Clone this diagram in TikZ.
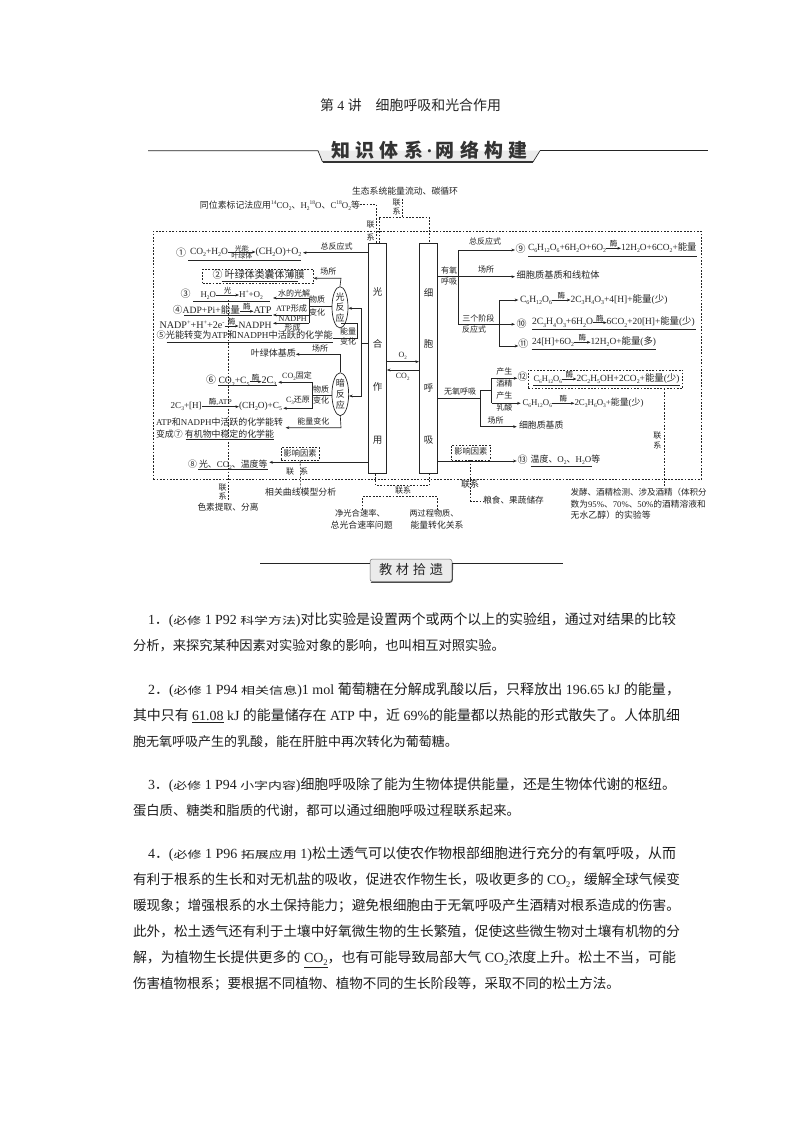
\documentclass[tikz,border=0pt]{standalone}
\usepackage{graphicx}
\usepackage{fontspec}
\usetikzlibrary{arrows.meta,shapes.geometric,calc}
\setmainfont{Liberation Serif}
\newfontfamily\cjk{Noto Sans CJK SC}
\newcommand\latinf{\rmfamily}
\XeTeXinterchartokenstate=1
\newcount\cc
\newcommand\setrange[2]{\cc=#1\relax\loop\XeTeXcharclass\cc=5\relax\ifnum\cc<#2\relax\advance\cc by 1\relax\repeat}
\setrange{"4E00}{"9FFF}
\setrange{"3000}{"303F}
\setrange{"FF00}{"FFEF}
\setrange{"2460}{"24FF}
\XeTeXinterchartoks 0 5={\cjk}
\XeTeXinterchartoks 5 0={\latinf}
\XeTeXinterchartoks 4095 5={\cjk}
\XeTeXinterchartoks 5 4095={\latinf}
\newcommand\dn[1]{\raisebox{-0.22em}{\scalebox{0.62}{#1}}}
\newcommand\uu[1]{\raisebox{0.42em}{\scalebox{0.62}{#1}}}
\newcommand\W[2]{\resizebox{#1pt}{!}{#2}}
\definecolor{ink}{gray}{0.14}
\tikzset{
 tx/.style={inner sep=0pt,outer sep=0pt,text=ink,font=\fontsize{8.8}{10}\selectfont,text height=6.5pt,text depth=2pt},
 txl/.style={tx,anchor=west},
 txr/.style={tx,anchor=east},
 sm/.style={tx,font=\fontsize{8}{9}\selectfont},
 bd/.style={inner sep=0pt,outer sep=0pt,anchor=west,text=black!88,font=\fontsize{13.3}{15}\selectfont,text height=10.5pt,text depth=3pt},
 ln/.style={draw=ink,line width=0.65pt},
 ar/.style={ln,-{Stealth[length=3.6pt,width=2.8pt]}},
 ds/.style={draw=ink,line width=0.6pt,dash pattern=on 1.8pt off 1.5pt},
 ul/.style={draw=ink,line width=0.6pt},
 cellbox/.style={draw=ink,line width=0.7pt,fill=white,inner sep=0pt,minimum width=18pt,minimum height=230pt,anchor=north},
 vch/.style={tx,font=\fontsize{9.5}{11}\selectfont},
 ell/.style={ellipse,draw=ink,line width=0.7pt,fill=white,inner sep=0pt},
 eltx/.style={inner sep=0pt,align=center,text=ink,font=\fontsize{9}{10.6}\selectfont},
 rxl/.style={midway,above=0.7pt,inner sep=0pt,text=ink,font=\fontsize{7.5}{7.5}\selectfont},
}
\begin{document}
\begin{tikzpicture}[x=1pt,y=-1pt]
\useasboundingbox (0,0) rectangle (794,1123);
\fill[white] (0,0) rectangle (794,1123);
% ---- title
\node[inner sep=0pt,text=black!85,font=\fontsize{13}{15}\selectfont] (title) at (410.5,105) {\W{181}{第 4 讲\quad 细胞呼吸和光合作用}};
% banner 1
\coordinate (r1a) at (148,150.7); \coordinate (b1l) at (318,150.7); \coordinate (b1lb) at (322.5,162); \coordinate (b1rb) at (533,162); \coordinate (b1r) at (540,150.7); \coordinate (r1b) at (708,150.7);
\fill[black!8] (b1l) -- (b1lb) -- (b1rb) -- (b1r) -- cycle;
\draw[ln] (r1a) -- (b1l) -- (b1lb);
\draw[ln] (b1r) -- (r1b);
\draw[ln] (b1r) -- (b1rb);
\draw[draw=black!80,line width=1.3pt] (b1lb) -- (b1rb);
\node[inner sep=0pt,text=black!80,font=\fontsize{18}{20}\bfseries\selectfont] (bn1) at (429.5,150.5) {\W{196}{知\hspace{5pt}识\hspace{5pt}体\hspace{5pt}系\hspace{3pt}·\hspace{3pt}网\hspace{5pt}络\hspace{5pt}构\hspace{5pt}建}};
% ---- big dashed frame
\node[ds,inner sep=0pt,anchor=north west,minimum width=548pt,minimum height=248pt] (frame) at (153,231) {};
% ---- central boxes
\node[cellbox] (G) at (377.5,243) {};
\node[cellbox] (R) at (428.3,243) {};
\foreach \n/\c/\y in {g1/光/293,g2/合/345,g3/作/388.3,g4/用/441}{\node[vch] (\n) at (377.5,\y) {\c};}
\foreach \n/\c/\y in {c1/细/294,c2/胞/345.7,c3/呼/389,c4/吸/441}{\node[vch] (\n) at (428.6,\y) {\c};}
% O2 / CO2
\node[sm] (lo2) at (402.7,355) {O\dn{2}};
\node[sm] (lco2) at (402.7,376.7) {CO\dn{2}};
\coordinate (oy) at (400,361.7); \coordinate (coy) at (400,370);
\draw[ar] (G.east |- oy) -- (R.west |- oy);
\draw[ar] (R.west |- coy) -- (G.east |- coy);
% ---- top labels
\node[sm] (eco) at (405,192.7) {\W{106}{生态系统能量流动、碳循环}};
\node[sm] (iso) at (280,206) {\W{160}{同位素标记法应用\uu{14}CO\dn{2}、H\dn{2}\uu{18}O、C\uu{18}O\dn{2}等}};
\coordinate (isoe) at (376.5,204.5);
\draw[ds] (iso.east |- isoe) -- (isoe) -- (isoe |- G.north);
\node[sm] (ll1) at (370.7,225) {联}; \node[sm] (ll2) at (370.7,238) {系};
\node[sm] (lt1) at (396.7,203) {联}; \node[sm] (lt2) at (396.7,212.7) {系};
\coordinate (top1) at (379,217); \coordinate (top2) at (402.7,217); \coordinate (top3) at (429,217); \coordinate (top0) at (402.7,199);
\draw[ds] (top0) -- (top2);
\draw[ds] (top1 |- G.north) -- (top1) -- (top3) -- (top3 |- R.north);
% ---- ellipses
\node[ell,minimum width=16pt,minimum height=41.3pt] (Lr) at (340,307.3) {};
\node[eltx] (Lrt) at (340,307.3) {光\\反\\应};
\node[ell,minimum width=16.7pt,minimum height=43pt] (Dr) at (340.3,394.2) {};
\node[eltx] (Drt) at (340.3,394.2) {暗\\反\\应};
% ---- vertical pigment dashed (behind text)
\coordinate (pgT) at (228.3,300); \coordinate (pgB) at (228.3,501);
\draw[ds] (pgT) -- (pgB);
% ---- (1)
\node[tx] (n1) at (181,254) {\fontsize{10}{10}\selectfont ①};
\node[txr] (f1a) at (228,252) {\W{38}{CO\dn{2}+H\dn{2}O}};
\node[txl] (f1b) at (255.5,252) {\W{46}{(CH\dn{2}O)+O\dn{2}}};
\draw[ar] (f1a.east) -- (f1b.west) node[midway,above=0.1pt,inner sep=0pt,text=ink,font=\fontsize{7}{7}\selectfont]{光能} node[midway,below=0.4pt,inner sep=0pt,text=ink,font=\fontsize{7}{7}\selectfont]{叶绿体};
\coordinate (u1a) at (188,260.7); \coordinate (u1b) at (301,260.7); \draw[ul] (u1a) -- (u1b);
\coordinate (e1) at (303,252.7);
\draw[ar] (G.west |- e1) -- (e1) ;
\node[sm] (l1) at (336.7,247.5) {总反应式};
% ---- (2)
\node[ds,inner sep=0pt,minimum width=110.6pt,minimum height=14pt] (box2) at (258,276.3) {};
\node[tx] (n2) at (258.5,276) {\W{92}{② 叶绿体类囊体薄膜}};
\coordinate (u2a) at (221.7,281.7); \coordinate (u2b) at (298,281.7); \draw[ul] (u2a) -- (u2b);
\coordinate (c2a) at (341,278.3);
\draw[ar] (Lr.north) -- (c2a) -- (box2.east |- c2a);
\node[sm] (l2) at (328.3,272.7) {场所};
% ---- (3)
\node[tx] (n3) at (185.7,295.3) {\fontsize{10}{10}\selectfont ③};
\node[txr] (f3a) at (216,295) {H\dn{2}O};
\node[txl] (f3b) at (239,295) {\W{24}{H\uu{+}+O\dn{2}}};
\draw[ar] (f3a.east) -- (f3b.west) node[rxl]{光};
\coordinate (u3a) at (193,301); \coordinate (u3b) at (270,301); \draw[ul] (u3a) -- (u3b);
\node[sm] (l3) at (294,294) {水的光解};
\coordinate (br1) at (309,298); \coordinate (br2) at (309,315); \coordinate (br3) at (309,323.3); \coordinate (brm) at (309,306.7);
\coordinate (e3) at (273,298); \coordinate (e4) at (273,315); \coordinate (e5) at (273,323.3);
\draw[ln] (br1) -- (br3);
\draw[ln] (brm) -- (Lr.west |- brm);
\draw[ar] (br1) -- (e3);
\draw[ar] (br2) -- (e4);
\draw[ar] (br3) -- (e5);
\node[sm] (l4a) at (317,300.7) {物质};
\node[sm] (l4b) at (317,313.3) {变化};
\node[sm] (l5) at (291.7,309) {\W{31}{ATP形成}};
\node[sm] (l6) at (292.7,319.5) {\W{28}{NADPH}};
\node[sm] (l7) at (292.7,328.5) {形成};
% ---- (4)
\node[txr] (f4a) at (240,311.3) {\W{67}{④ADP+Pi+能量}};
\node[txl] (f4b) at (253.5,311.3) {\W{18}{ATP}};
\draw[ar] (f4a.east) -- (f4b.west) node[rxl]{酶};
\coordinate (u4a) at (184,315.7); \coordinate (u4b) at (272,315.7); \draw[ul] (u4a) -- (u4b);
\node[txr] (f4c) at (224.5,326) {\W{65}{NADP\uu{+}+H\uu{+}+2e\uu{-}}};
\node[txl] (f4d) at (238.5,326) {\W{33}{NADPH}};
\draw[ar] (f4c.east) -- (f4d.west) node[rxl]{酶};
% ---- (5)
\node[txl] (f5) at (156.7,336.7) {\W{176}{⑤光能转变为ATP和NADPH中活跃的化学能}};
\coordinate (u5a) at (166.7,342); \coordinate (u5b) at (333,342); \draw[ul] (u5a) -- (u5b);
\coordinate (p5a) at (341,323.3); \coordinate (p5b) at (357,323.3); \coordinate (p5c) at (357,338);
\draw[ln] (p5a) -- (p5b) -- (p5c) -- (f5.east |- p5c);
\node[sm] (l8a) at (348,332) {能量};
\node[sm] (l8b) at (348,342.7) {变化};
% ---- G to reactions
\coordinate (bj) at (361.7,343.3); \coordinate (bl) at (361.7,308.3); \coordinate (bd) at (361.7,396);
\draw[ln] (G.west |- bj) -- (bj);
\draw[ar] (bj) -- (bl) -- (Lr.east |- bl);
\draw[ar] (bj) -- (bd) -- (Dr.east |- bd);
% ---- stroma
\node[tx] (st) at (273.3,354.3) {\W{45}{叶绿体基质}};
\coordinate (st1) at (340.3,354.3);
\draw[ar] (Dr.north) -- (st1) -- (st.east);
\node[sm] (l9) at (320,349.3) {场所};
% ---- (6)
\node[tx] (n6) at (211,381.7) {\fontsize{10}{10}\selectfont ⑥};
\node[txr] (f6a) at (249.5,381.7) {\W{31}{CO\dn{2}+C\dn{5}}};
\node[txl] (f6b) at (261.5,381.7) {\W{15}{2C\dn{3}}};
\draw[ar] (f6a.east) -- (f6b.west) node[rxl]{酶};
\coordinate (u6a) at (218,385.5); \coordinate (u6b) at (277,385.5); \draw[ul] (u6a) -- (u6b);
\node[sm] (l10) at (297,376.7) {CO\dn{2}固定};
\coordinate (v1) at (312.7,382.3); \coordinate (v2) at (312.7,408.3); \coordinate (vm) at (312.7,395.7);
\coordinate (e6) at (278.3,382.3); \coordinate (e7) at (283.3,408.3);
\draw[ar] (v1) -- (e6);
\draw[ar] (v2) -- (e7);
\draw[ln] (v1) -- (v2);
\draw[ln] (vm) -- (Dr.west |- vm);
\node[sm] (l11a) at (321,390) {物质};
\node[sm] (l11b) at (321,401) {变化};
\node[sm] (l12) at (298,400) {C\dn{3}还原};
\node[txr] (f6c) at (201.7,406.7) {\W{31}{2C\dn{3}+[H]}};
\node[txl] (f6d) at (239,406.7) {\W{43}{(CH\dn{2}O)+C\dn{5}}};
\draw[ar] (f6c.east) -- (f6d.west) node[rxl]{酶,ATP};
% ---- (7)
\node[txl] (f7a) at (156,423.3) {\W{127}{ATP和NADPH中活跃的化学能转}};
\node[txl] (f7b) at (156,435.3) {\W{118}{变成⑦ 有机物中稳定的化学能}};
\coordinate (u7a) at (185.7,439.5); \coordinate (u7b) at (274,439.5); \draw[ul] (u7a) -- (u7b);
\coordinate (c7a) at (341,427.7); \coordinate (e7b) at (285.7,427.7);
\draw[ar] (Dr.south) -- (c7a) -- (e7b);
\node[sm] (l13) at (313.3,422.3) {能量变化};
% ---- (8)
\node[ds,inner sep=0pt,minimum width=38.3pt,minimum height=12.4pt] (inf1) at (300.2,453.9) {};
\node[sm] (inf1t) at (300.2,454) {\W{33}{影响因素}};
\coordinate (e8) at (269.3,462.3);
\draw[ar] (G.west |- e8) -- (e8);
\node[txl] (f8) at (188,465) {\W{79.5}{⑧ 光、CO\dn{2}、温度等}};
\coordinate (u8a) at (198,469.5); \coordinate (u8b) at (267.7,469.5); \draw[ul] (u8a) -- (u8b);
\node[sm] (l14) at (300.7,493.3) {\W{71}{相关曲线模型分析}};
\draw[ds] (inf1.south) -- (l14.north);
\node[sm] (l15a) at (290,472.7) {联}; \node[sm] (l15b) at (304,472.7) {系};
\node[sm] (l16a) at (222.7,488) {联}; \node[sm] (l16b) at (222.7,497.3) {系};
\node[sm] (l17) at (228,508) {\W{61}{色素提取、分离}};
% ---- bottom link
\coordinate (bt1) at (375.7,485.7); \coordinate (bt2) at (429.3,485.7);
\draw[ds] (bt1 |- G.south) -- (bt1) -- (bt2) -- (bt2 |- R.south);
\node[sm] (l18) at (403,491.5) {联系};
\coordinate (bb1) at (362.7,496.7); \coordinate (bb2) at (437.3,496.7); \coordinate (bbm) at (403,496.7);
\node[sm] (t1a) at (360,514) {\W{50}{净光合速率、}};
\node[sm] (t1b) at (361.7,526) {\W{62}{总光合速率问题}};
\node[sm] (t2a) at (434,514) {\W{49}{两过程物质、}};
\node[sm] (t2b) at (437,526) {\W{53}{能量转化关系}};
\draw[ds] (bb1 |- t1a.north) -- (bb1) -- (bb2) -- (bb2 |- t2a.north);
% ---- right: aerobic
\coordinate (tr1) at (458.3,250); \coordinate (tr2) at (458.3,324.3); \coordinate (trm) at (458.3,276.7);
\coordinate (ar9) at (515,250); \coordinate (arp) at (515,276.7); \coordinate (ar10) at (515,324.3);
\draw[ar] (R.east |- trm) -- (arp);
\draw[ar] (ar9 -| tr1) -- (ar9);
\draw[ln] (tr1) -- (tr2);
\draw[ar] (tr2) -- (ar10);
\node[sm] (a1) at (485,242.7) {总反应式};
\node[sm] (a2) at (449,271.7) {有氧};
\node[sm] (a3) at (449,282.7) {呼吸};
\node[sm] (a4) at (486,270) {场所};
\node[sm] (a5) at (478.3,319.3) {三个阶段};
\node[sm] (a6) at (474,330) {反应式};
\node[tx] (n9) at (520.7,250) {\fontsize{10}{10}\selectfont ⑨};
\node[txr] (f9a) at (606,248.3) {\W{78}{C\dn{6}H\dn{12}O\dn{6}+6H\dn{2}O+6O\dn{2}}};
\node[txl] (f9b) at (621,248.3) {\W{75.5}{12H\dn{2}O+6CO\dn{2}+能量}};
\draw[ar] (f9a.east) -- (f9b.west) node[rxl]{酶};
\coordinate (u9a) at (528,256); \coordinate (u9b) at (696.7,256); \draw[ul] (u9a) -- (u9b);
\node[txl] (fp) at (516.7,276.7) {\W{83}{细胞质基质和线粒体}};
% three stages
\coordinate (st1v) at (499.3,300); \coordinate (st2v) at (499.3,346); \coordinate (ar1a) at (518.3,300); \coordinate (ar1c) at (518.3,346); \coordinate (stm) at (499.3,324.3);
\draw[ar] (st1v) -- (ar1a);
\draw[ar] (st2v) -- (ar1c);
\draw[ln] (st1v) -- (st2v);
\node[txr] (fsa) at (552,300) {\W{32}{C\dn{6}H\dn{12}O\dn{6}}};
\node[txl] (fsb) at (570.5,300) {\W{97}{2C\dn{3}H\dn{4}O\dn{3}+4[H]+能量(少)}};
\draw[ar] (fsa.east) -- (fsb.west) node[rxl]{酶};
\node[tx] (n10) at (521.7,325) {\fontsize{10}{10}\selectfont ⑩};
\node[txr] (ftb) at (593,322.7) {\W{61}{2C\dn{3}H\dn{4}O\dn{3}+6H\dn{2}O}};
\node[txl] (ftc) at (606.7,322.7) {\W{88}{6CO\dn{2}+20[H]+能量(少)}};
\draw[ar] (ftb.east) -- (ftc.west) node[rxl]{酶};
\coordinate (u10a) at (532.3,329.3); \coordinate (u10b) at (696,329.3); \draw[ul] (u10a) -- (u10b);
\node[tx] (n11) at (523.3,345) {\fontsize{10}{10}\selectfont ⑪};
\node[txr] (fua) at (574,342.3) {\W{42}{24[H]+6O\dn{2}}};
\node[txl] (fub) at (590.5,342.3) {\W{65.5}{12H\dn{2}O+能量(多)}};
\draw[ar] (fua.east) -- (fub.west) node[rxl]{酶};
\coordinate (u11a) at (531.7,349.3); \coordinate (u11b) at (656,349.3); \draw[ul] (u11a) -- (u11b);
% ---- anaerobic
\coordinate (an1) at (480.7,398.3); \coordinate (an0) at (480.7,390); \coordinate (an2) at (480.7,426.7);
\coordinate (an3) at (491.7,390); \coordinate (an4) at (491.7,378.3); \coordinate (an5) at (491.7,403.3);
\coordinate (ea) at (517.3,378.3); \coordinate (eb) at (520.7,403.3); \coordinate (ec) at (516.7,426.7);
\draw[ln] (R.east |- an1) -- (an1);
\draw[ln] (an0) -- (an2);
\draw[ln] (an0) -- (an3);
\draw[ln] (an4) -- (an5);
\draw[ar] (an4) -- (ea);
\draw[ar] (an5) -- (eb);
\draw[ar] (an2) -- (ec);
\node[sm] (b1) at (460,392.3) {无氧呼吸};
\node[sm] (b2) at (504.3,372.3) {产生};
\node[sm] (b3) at (504.3,384) {酒精};
\node[sm] (b4) at (504.3,396.7) {产生};
\node[sm] (b5) at (504.3,408.3) {乳酸};
\node[sm] (b6) at (495.7,421.5) {场所};
\node[tx] (n12) at (522.7,378.3) {\fontsize{10}{10}\selectfont ⑫};
\node[ds,inner sep=0pt,minimum width=154.4pt,minimum height=18.3pt] (b12) at (605.5,379.2) {};
\node[txr] (fva) at (562,379) {\W{28.5}{C\dn{6}H\dn{12}O\dn{6}}};
\node[txl] (fvb) at (576.5,379) {\W{103}{2C\dn{2}H\dn{5}OH+2CO\dn{2}+能量(少)}};
\draw[ar] (fva.east) -- (fvb.west) node[rxl]{酶};
\coordinate (u12a) at (533,385); \coordinate (u12b) at (679.5,385); \draw[ul] (u12a) -- (u12b);
\node[txr] (fwa) at (552,403.3) {\W{29.5}{C\dn{6}H\dn{12}O\dn{6}}};
\node[txl] (fwb) at (574.5,403.3) {\W{69}{2C\dn{3}H\dn{6}O\dn{3}+能量(少)}};
\draw[ar] (fwa.east) -- (fwb.west) node[rxl]{酶};
\node[txl] (fx) at (519,426) {\W{44.5}{细胞质基质}};
% ---- influence right
\coordinate (ei) at (516.7,461);
\draw[ar] (R.east |- ei) -- (ei);
\node[ds,inner sep=0pt,minimum width=38.3pt,minimum height=15pt] (inf2) at (470.8,452.5) {};
\node[sm] (inf2t) at (470.8,452.5) {\W{33}{影响因素}};
\node[tx] (n13) at (522.7,461) {\fontsize{10}{10}\selectfont ⑬};
\node[txl] (f13) at (530.7,460) {\W{69.5}{温度、O\dn{2}、H\dn{2}O等}};
\coordinate (u13a) at (530.7,466.7); \coordinate (u13b) at (591.7,466.7); \draw[ul] (u13a) -- (u13b);
\node[sm] (b7) at (470,485) {\W{18}{联系}};
\node[txl,font=\fontsize{8}{9}\selectfont] (f14) at (483.3,501) {\W{60.5}{粮食、果蔬储存}};
\coordinate (l1a) at (470.7,501);
\draw[ds] (inf2.south -| l1a) -- (l1a) -- (f14.west);
% ---- right link
\node[sm] (b8a) at (657.3,436.7) {联};
\node[sm] (b8b) at (657.3,446) {系};
\node[sm] (k1) at (638.7,493.3) {\W{136}{发酵、酒精检测、涉及酒精（体积分}};
\node[sm,anchor=west] (k2) at (570.7,505) {\W{135}{数为95\%、70\%、50\%的酒精溶液和}};
\node[sm,anchor=west] (k3) at (570.7,516) {\W{80}{无水乙醇）的实验等}};
\coordinate (kt) at (664,486.7);
\draw[ds] (b12.south -| kt) -- (kt);
% ---- banner 2
\coordinate (r2a) at (260,563.3); \coordinate (r2b) at (563,563.3);
\node[inner sep=0pt,minimum width=82pt,minimum height=22.5pt,rounded corners=2.5pt,fill=black!8,draw=black!55,line width=0.5pt] (bn2) at (411,570.3) {};
\draw[draw=black!70,line width=1.1pt,rounded corners=2.5pt] ($(bn2.south west)+(1,0.5)$) -- ($(bn2.south east)+(0,0.5)$) -- ($(bn2.north east)+(0.3,4)$);
\draw[ln] (r2a) -- (bn2.west |- r2a);
\draw[ln] (bn2.east |- r2b) -- (r2b);
\node[inner sep=0pt,text=black!85,font=\fontsize{14}{15}\selectfont] (bn2t) at (411,570) {\W{64}{教\hspace{4pt}材\hspace{4pt}拾\hspace{4pt}遗}};
% ---- body
\newcommand\tg[3]{\scalebox{1}[0.72]{#1} #2 \scalebox{1}[0.72]{#3}}
\node[bd] (p1a) at (148,621) {\W{528}{1．(\tg{必修}{1 P92}{科学方法})对比实验是设置两个或两个以上的实验组，通过对结果的比较}};
\node[bd] (p1b) at (133,647) {\W{372}{分析，来探究某种因素对实验对象的影响，也叫相互对照实验。}};
\node[bd] (p2a) at (148,691) {\W{532}{2．(\tg{必修}{1 P94}{相关信息})1 mol 葡萄糖在分解成乳酸以后，只释放出 196.65 kJ 的能量，}};
\node[bd] (p2b) at (133,717) {\W{547}{其中只有 \underline{61.08} kJ 的能量储存在 ATP 中，近 69\%的能量都以热能的形式散失了。人体肌细}};
\node[bd] (p2c) at (133,743) {\W{325}{胞无氧呼吸产生的乳酸，能在肝脏中再次转化为葡萄糖。}};
\node[bd] (p3a) at (148,786) {\W{528}{3．(\tg{必修}{1 P94}{小字内容})细胞呼吸除了能为生物体提供能量，还是生物体代谢的枢纽。}};
\node[bd] (p3b) at (133,812) {\W{387}{蛋白质、糖类和脂质的代谢，都可以通过细胞呼吸过程联系起来。}};
\node[bd] (p4a) at (148,855) {\W{528}{4．(\tg{必修}{1 P96}{拓展应用} 1)松土透气可以使农作物根部细胞进行充分的有氧呼吸，从而}};
\node[bd] (p4b) at (133,881) {\W{547}{有利于根系的生长和对无机盐的吸收，促进农作物生长，吸收更多的 CO\dn{2}，缓解全球气候变}};
\node[bd] (p4c) at (133,907) {\W{547}{暖现象；增强根系的水土保持能力；避免根细胞由于无氧呼吸产生酒精对根系造成的伤害。}};
\node[bd] (p4d) at (133,933) {\W{547}{此外，松土透气还有利于土壤中好氧微生物的生长繁殖，促使这些微生物对土壤有机物的分}};
\node[bd] (p4e) at (133,959) {\W{543}{解，为植物生长提供更多的 \underline{CO\dn{2}}，也有可能导致局部大气 CO\dn{2}浓度上升。松土不当，可能}};
\node[bd] (p4f) at (133,985) {\W{487}{伤害植物根系；要根据不同植物、植物不同的生长阶段等，采取不同的松土方法。}};
\end{tikzpicture}
\end{document}
